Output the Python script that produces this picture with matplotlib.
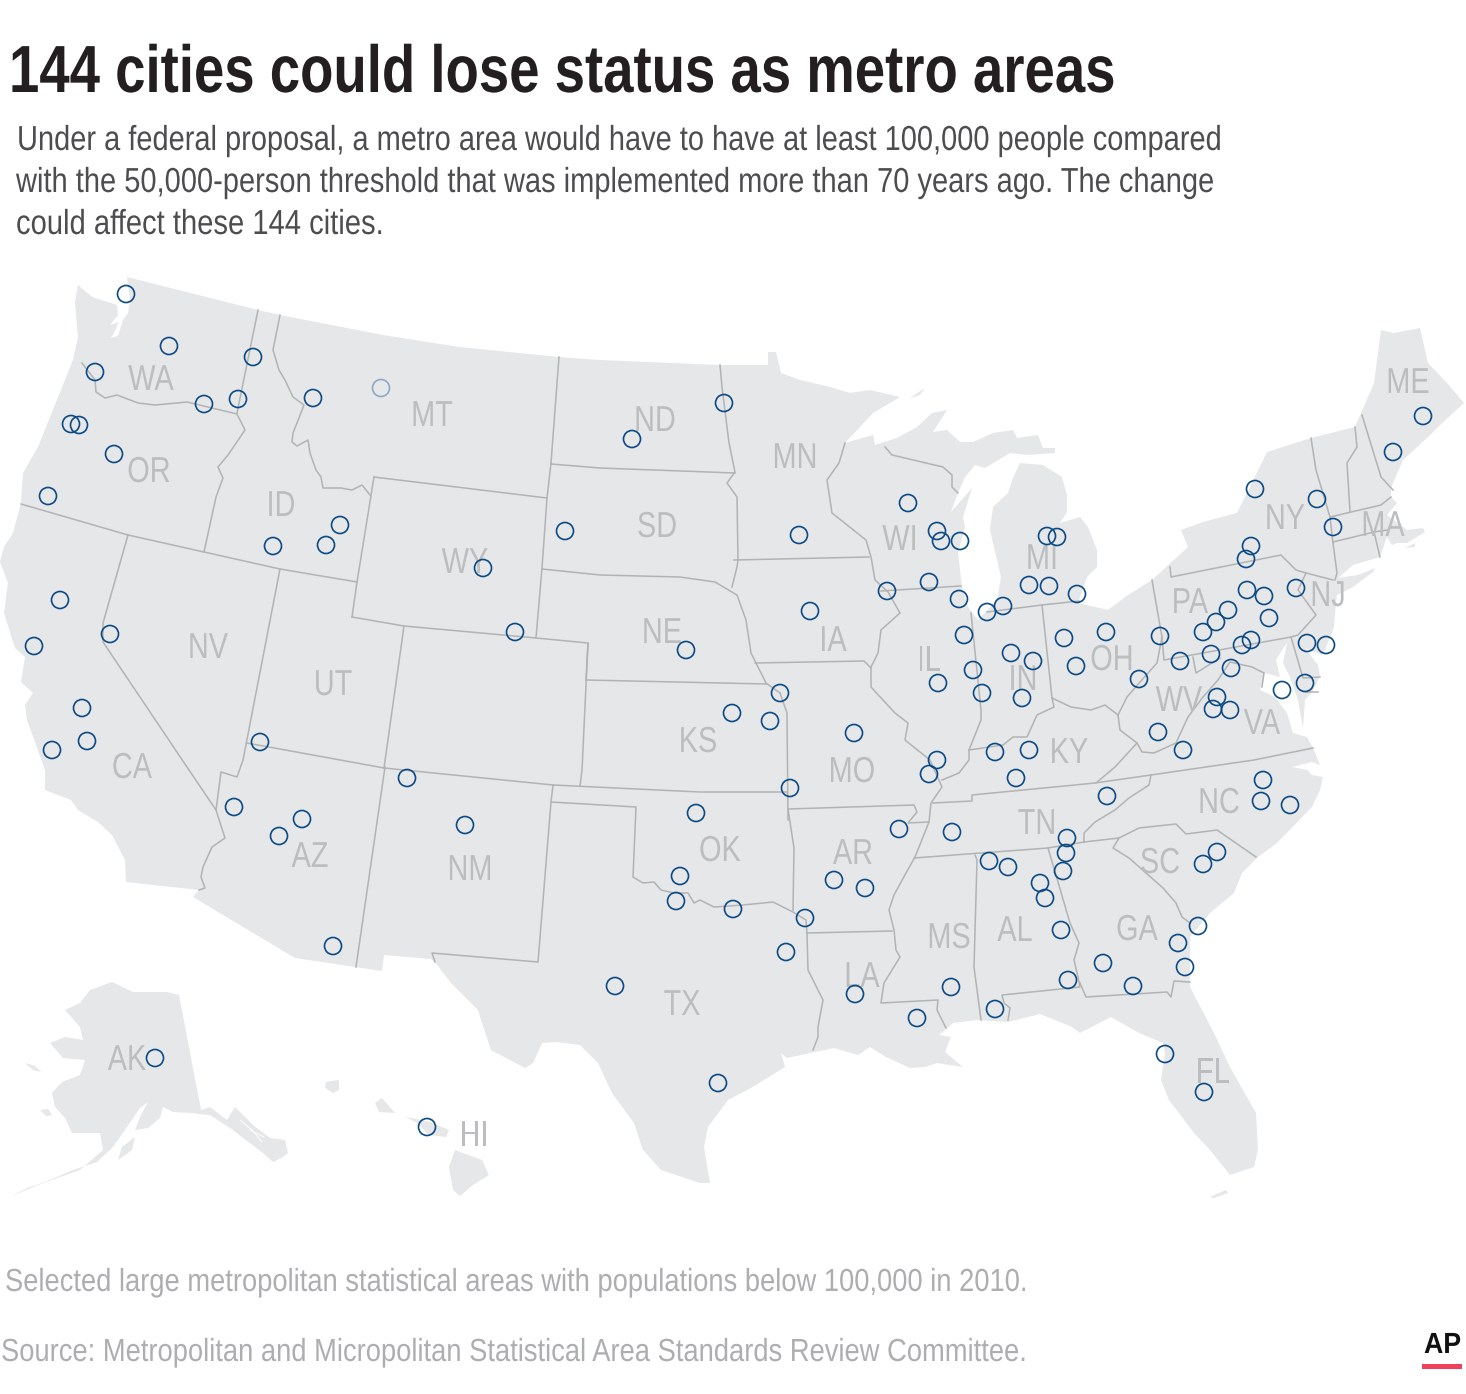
import matplotlib
matplotlib.use("Agg")
import matplotlib.pyplot as plt
from matplotlib.patches import Rectangle
from matplotlib.patheffects import AbstractPathEffect
from matplotlib.transforms import Affine2D

FONT = ['Liberation Sans', 'DejaVu Sans']

TITLE = "144 cities could lose status as metro areas"
BODY = ["Under a federal proposal, a metro area would have to have at least 100,000 people compared",
        "with the 50,000-person threshold that was implemented more than 70 years ago. The change",
        "could affect these 144 cities."]
NOTE = "Selected large metropolitan statistical areas with populations below 100,000 in 2010."
SOURCE = "Source: Metropolitan and Micropolitan Statistical Area Standards Review Committee."

LAND = [(78,285),(92,297),(117,305),(118,315),(110,325),(119,322),(113,335),(110,338),(118,336),(123,320),(128,313),(130,300),(127,277),(258,310),(280,315),(383,335),(459,347),(559,357),(600,360),(720,365),(768,365),(768,352),(776,352),(781,373),(800,380),(830,387),(850,393),(870,390),(900,397),(873,413),(845,443),(873,435),(875,445),(897,438),(917,427),(932,413),(947,410),(933,432),(947,430),(960,442),(973,442),(993,433),(1013,430),(1017,438),(1038,435),(1043,448),(1055,448),(1055,453),(1027,455),(1010,453),(985,468),(975,465),(965,477),(958,493),(951,512),(972,488),(963,517),(965,527),(958,553),(962,587),(968,607),(978,620),(997,600),(1001,577),(990,530),(993,507),(1008,493),(1013,478),(1020,463),(1043,465),(1062,477),(1067,495),(1067,512),(1060,523),(1080,517),(1088,527),(1097,550),(1097,567),(1087,577),(1078,603),(1108,610),(1125,597),(1152,580),(1188,547),(1181,530),(1203,522),(1237,513),(1245,497),(1267,452),(1311,438),(1355,427),(1374,383),(1381,330),(1394,333),(1420,328),(1428,363),(1447,383),(1464,403),(1438,427),(1428,437),(1403,460),(1391,488),(1391,497),(1397,503),(1387,515),(1407,530),(1423,528),(1425,532),(1407,543),(1397,543),(1392,545),(1387,537),(1380,557),(1353,565),(1338,578),(1358,575),(1375,568),(1373,572),(1353,587),(1337,595),(1335,613),(1334,627),(1325,650),(1322,655),(1305,648),(1318,665),(1320,677),(1312,692),(1305,700),(1303,728),(1298,700),(1290,677),(1283,663),(1287,643),(1282,650),(1276,660),(1280,677),(1265,673),(1260,690),(1275,697),(1287,713),(1293,733),(1307,737),(1313,748),(1320,765),(1312,762),(1292,767),(1307,770),(1312,775),(1323,777),(1320,790),(1312,807),(1277,843),(1258,857),(1242,873),(1234,893),(1210,913),(1190,937),(1190,987),(1214,1033),(1230,1067),(1256,1113),(1258,1150),(1254,1167),(1230,1175),(1210,1150),(1194,1133),(1169,1100),(1161,1080),(1165,1053),(1163,1043),(1139,1033),(1111,1017),(1080,1033),(1072,1027),(1040,1014),(1008,1022),(977,1020),(953,1023),(939,1035),(951,1037),(945,1052),(963,1067),(937,1063),(925,1067),(910,1068),(886,1057),(870,1047),(858,1055),(834,1048),(815,1052),(787,1058),(781,1053),(785,1067),(751,1088),(728,1100),(708,1127),(704,1147),(710,1183),(700,1183),(661,1170),(643,1150),(634,1123),(612,1093),(598,1063),(580,1045),(556,1042),(542,1043),(533,1063),(525,1068),(491,1050),(482,1023),(478,1010),(451,983),(435,962),(431,959),(384,955),(382,971),(295,958),(193,897),(199,890),(126,882),(125,860),(112,835),(98,822),(78,810),(71,800),(45,790),(45,770),(27,720),(25,705),(33,693),(21,682),(25,657),(15,648),(4,613),(8,583),(0,562),(4,547),(13,533),(21,503),(23,473),(38,447),(69,370),(73,360),(78,337),(75,303)]

ALASKA = [(179,995),(201,1110),(210,1107),(227,1120),(235,1107),(253,1125),(270,1138),(285,1140),(288,1153),(283,1157),(273,1162),(263,1153),(243,1138),(233,1130),(210,1115),(190,1113),(173,1112),(163,1107),(160,1118),(148,1128),(135,1130),(140,1117),(148,1102),(140,1108),(127,1127),(113,1147),(97,1162),(73,1170),(45,1182),(27,1188),(12,1196),(33,1187),(57,1178),(80,1170),(103,1150),(100,1133),(80,1133),(72,1133),(65,1118),(55,1107),(52,1093),(62,1082),(80,1075),(85,1060),(63,1058),(50,1043),(65,1037),(83,1040),(80,1027),(65,1010),(80,1003),(90,990),(112,982),(133,992),(167,992)]
SMALL_ISLANDS = [
    [(118,1160),(122,1147),(135,1137),(132,1150)],
    [(25,1063),(35,1066),(41,1072),(33,1070)],
    [(40,1110),(48,1109),(52,1115),(46,1116)],
    [(455,1150),(482,1160),(489,1175),(473,1185),(460,1196),(453,1190),(449,1167)],
    [(406,1117),(430,1122),(449,1130),(446,1137),(429,1135),(417,1123)],
    [(382,1098),(395,1113),(379,1112),(375,1103)],
    [(326,1082),(339,1080),(339,1090),(333,1093),(325,1088)],
    [(1210,1197),(1226,1190),(1228,1193),(1214,1198)],
    [(910,398),(925,388),(920,395)],
    [(1405,548),(1415,543),(1415,547)],
]
WHITE_CHANNELS = [
    [(240,1120),(252,1130),(262,1142)],
    [(250,1130),(264,1137)],
]

BORDERS = [
    [(258,310),(237,413)],
    [(82,363),(95,380),(96,392),(105,398),(117,395),(138,403),(155,405),(187,402),(237,414),(239,418),(245,430),(228,455),(218,467),(223,478),(216,497),(204,552)],
    [(21,504),(128,535),(204,552),(280,569),(357,582)],
    [(128,535),(103,623),(103,642),(189,770),(216,810),(225,838),(212,847),(203,867),(201,877),(205,888),(199,890)],
    [(280,569),(243,760),(237,777),(221,772),(216,810)],
    [(247,743),(384,768),(553,785),(700,792),(787,792)],
    [(385,767),(356,967)],
    [(553,785),(551,802),(538,962),(432,953),(435,962)],
    [(551,802),(636,807),(633,877),(643,883),(654,882),(661,890),(674,893),(688,893),(694,903),(700,900),(714,907),(743,905),(773,902),(793,912),(806,920),(807,933),(808,970),(823,1000),(818,1027),(818,1037),(813,1050)],
    [(788,809),(794,848),(793,910)],
    [(807,933),(892,931)],
    [(788,809),(914,805),(917,812),(908,823),(929,822)],
    [(780,693),(787,713),(788,820)],
    [(586,680),(766,684)],
    [(352,617),(404,626),(536,638),(588,643),(586,680)],
    [(588,643),(582,770),(580,786)],
    [(404,626),(384,768)],
    [(374,477),(357,582),(352,617)],
    [(374,477),(547,498)],
    [(280,315),(273,350),(279,370),(285,380),(293,397),(304,405),(297,423),(293,433),(292,442),(297,446),(308,440),(310,453),(316,470),(321,477),(323,488),(341,488),(352,490),(362,485),(370,495)],
    [(559,357),(551,463),(547,498),(542,568),(536,638)],
    [(551,464),(600,468),(735,473)],
    [(542,569),(600,575),(680,577),(715,582),(737,595),(746,620),(751,653),(766,683),(780,693)],
    [(720,365),(722,387),(729,443),(735,472),(727,483),(737,497),(738,560)],
    [(734,560),(869,557)],
    [(738,560),(737,567),(732,587)],
    [(845,443),(839,463),(827,480),(832,513),(866,540),(871,557),(875,580),(888,592),(900,613),(881,630),(878,653),(871,667),(871,687),(895,713),(908,723),(905,740),(930,760),(942,787),(931,803),(929,822),(915,857),(906,873),(894,895),(889,910),(894,930),(896,950),(900,957),(884,983),(881,1003),(938,1000),(937,1010),(946,1028)],
    [(755,663),(864,661),(871,668)],
    [(881,591),(961,586)],
    [(885,447),(892,455),(943,467),(952,475),(952,487),(958,493)],
    [(971,613),(981,710),(981,720),(969,750),(969,760),(959,773),(942,780)],
    [(969,750),(1003,745),(1013,737),(1027,737),(1037,715),(1054,707),(1052,698),(1042,605)],
    [(987,612),(1042,605),(1079,601)],
    [(1052,698),(1071,707),(1091,710),(1105,705),(1118,715),(1127,697),(1140,682),(1157,663),(1162,637),(1152,580)],
    [(1118,715),(1120,730),(1137,743),(1115,767),(1096,783)],
    [(1137,743),(1142,752),(1154,753),(1176,743),(1188,717),(1203,697),(1218,680),(1230,662),(1252,667),(1264,673),(1262,687)],
    [(1162,637),(1164,660),(1291,637),(1303,678),(1320,677)],
    [(1193,657),(1196,673),(1220,658)],
    [(1306,692),(1318,692)],
    [(1170,567),(1171,577),(1281,555),(1296,570),(1306,573),(1333,580)],
    [(1306,573),(1298,590),(1316,615),(1298,635),(1291,637)],
    [(1311,438),(1316,470),(1330,517),(1333,543),(1337,573),(1335,580)],
    [(1355,427),(1357,447),(1347,463),(1350,512)],
    [(1330,517),(1381,505),(1391,497)],
    [(1362,415),(1381,477),(1393,490)],
    [(1333,542),(1374,532),(1387,530)],
    [(1374,532),(1380,557)],
    [(933,803),(972,801),(972,795),(1095,783),(1151,775),(1254,760),(1313,748)],
    [(1151,775),(1149,785),(1129,798),(1115,810),(1095,822),(1084,833),(1084,842)],
    [(914,858),(1048,848),(1084,842),(1119,838),(1139,828),(1176,824),(1186,834),(1217,830),(1256,857)],
    [(1119,838),(1113,848),(1129,858),(1163,888),(1176,903),(1182,917),(1190,923)],
    [(1190,982),(1174,981),(1171,997),(1167,992),(1086,997),(1080,983)],
    [(1048,848),(1070,923),(1079,943),(1074,960),(1078,977),(1080,987),(1002,995),(1004,1003),(1010,1008),(1008,1020)],
    [(975,855),(977,860),(974,967),(981,1020)],
]

STATES = ["WA","OR","CA","NV","ID","MT","WY","UT","AZ","NM","ND","SD","NE","KS","OK","TX","MN","IA","MO","AR","LA","WI","IL","IN","MI","OH","KY","TN","MS","AL","GA","FL","SC","NC","VA","WV","PA","NY","NJ","MA","ME","AK","HI"]
STATE_X = [151,149,132,208,281,432,465,333,310,470,655,657,662,698,720,682,795,833,852,853,862,900,929,1023,1042,1112,1069,1037,949,1015,1137,1213,1160,1219,1262,1179,1190,1285,1328,1383,1408,127,474]
STATE_Y = [377,469,765,645,503,413,560,682,854,867,418,524,630,739,848,1002,455,638,769,851,974,537,658,677,556,657,750,821,935,928,927,1070,860,800,721,698,600,516,593,523,380,1057,1133]

CITY_X = [126,169,95,253,204,238,71,79,114,48,313,340,326,273,483,515,565,632,724,60,34,110,82,87,52,260,234,302,279,333,407,465,155,427,615,696,680,676,733,786,805,718,686,732,770,780,790,854,799,810,887,908,937,941,960,929,959,964,987,1003,1029,1049,1047,1057,1077,973,982,938,1011,1033,1022,1064,1106,1076,1139,1160,1180,1211,1203,1216,1228,1247,1264,1269,1296,1251,1246,1255,1317,1333,1393,1423,1307,1326,1251,1242,1231,1282,1305,1217,1213,1230,1158,1183,937,929,995,1029,1016,1107,1263,1261,1290,952,899,989,1008,1067,1066,1063,1040,1045,1061,1217,1203,1198,1178,1185,1103,1133,1068,995,951,917,855,834,865,1165,1204]
CITY_Y = [294,346,372,357,404,399,424,425,454,496,398,525,545,546,568,632,531,439,403,600,646,634,708,741,750,742,807,819,836,946,778,825,1058,1127,986,813,876,901,909,952,918,1083,650,713,721,693,788,733,535,611,591,503,531,541,541,582,599,635,612,606,585,586,536,537,594,670,693,683,653,661,698,638,632,666,679,636,661,654,632,622,610,590,596,618,588,546,559,489,499,527,452,416,643,645,640,645,668,690,683,697,709,710,732,750,760,774,752,750,778,796,780,801,805,832,829,861,867,838,853,871,883,898,930,852,864,926,943,967,963,986,980,1009,987,1018,994,880,888,1054,1092]
FADED_X = [381]
FADED_Y = [388]

LAND_C, BORDER_C, LABEL_C, CITY_C = "#e6e7e9", "#b2b3b4", "#bcbdbf", "#0b4a85"


class Condense(AbstractPathEffect):
    """Narrow a text's glyphs horizontally about its anchor, as in the original's squeezed type."""
    def __init__(self, x0, sx):
        super().__init__()
        self.x0, self.sx = x0, sx

    def draw_path(self, renderer, gc, tpath, affine, rgbFace=None):
        squeeze = Affine2D().translate(-self.x0, 0).scale(self.sx, 1).translate(self.x0, 0)
        renderer.draw_path(gc, tpath, affine + squeeze, rgbFace)


fig = plt.figure(figsize=(14.66, 13.94), dpi=100)
ax = fig.add_axes([0, 0, 1, 1])
ax.set_xlim(0, 1466); ax.set_ylim(1394, 0); ax.axis("off")
renderer = fig.canvas.get_renderer()


def fitted(x, y, s, width, **kw):
    t = ax.text(x, y, s, family=FONT, va="baseline", **kw)
    t.set_path_effects([Condense(x, width / t.get_window_extent(renderer).width)])
    return t


for poly in [LAND, ALASKA] + SMALL_ISLANDS:
    ax.fill(*zip(*poly), color=LAND_C, lw=0, zorder=1)
for line in WHITE_CHANNELS:
    ax.plot(*zip(*line), color="white", lw=0.7, zorder=1.5)
for line in BORDERS:
    ax.plot(*zip(*line), color=BORDER_C, lw=1.1, zorder=2, solid_joinstyle="round")
for s, x, y in zip(STATES, STATE_X, STATE_Y):
    t = ax.text(x, y + 13, s, color=LABEL_C, fontsize=26, family=FONT, ha="center", va="baseline", zorder=3)
    t.set_path_effects([Condense(x, 0.8)])
ax.scatter(CITY_X, CITY_Y, s=150, facecolors="none", edgecolors=CITY_C, linewidths=1.2, zorder=4)
ax.scatter(FADED_X, FADED_Y, s=150, facecolors="none", edgecolors="#8fa9c4", linewidths=1.2, zorder=4)

fitted(9, 92, TITLE, 1106, fontsize=48, fontweight="bold", color="#231f20")
fitted(17, 150, BODY[0], 1207, fontsize=25, color="#4d4d4f")
fitted(16, 192, BODY[1], 1199, fontsize=25, color="#4d4d4f")
fitted(16, 234, BODY[2], 368, fontsize=25, color="#4d4d4f")
fitted(5, 1291, NOTE, 1024, fontsize=23, color="#adaeb0")
fitted(1, 1361, SOURCE, 1028, fontsize=23, color="#adaeb0")
fitted(1424, 1353, "AP", 37, fontsize=21, fontweight="heavy", color="#111111")
ax.add_patch(Rectangle((1422, 1364), 40, 5, color="#f0415c", lw=0))

fig.savefig("out.png", dpi=100)
